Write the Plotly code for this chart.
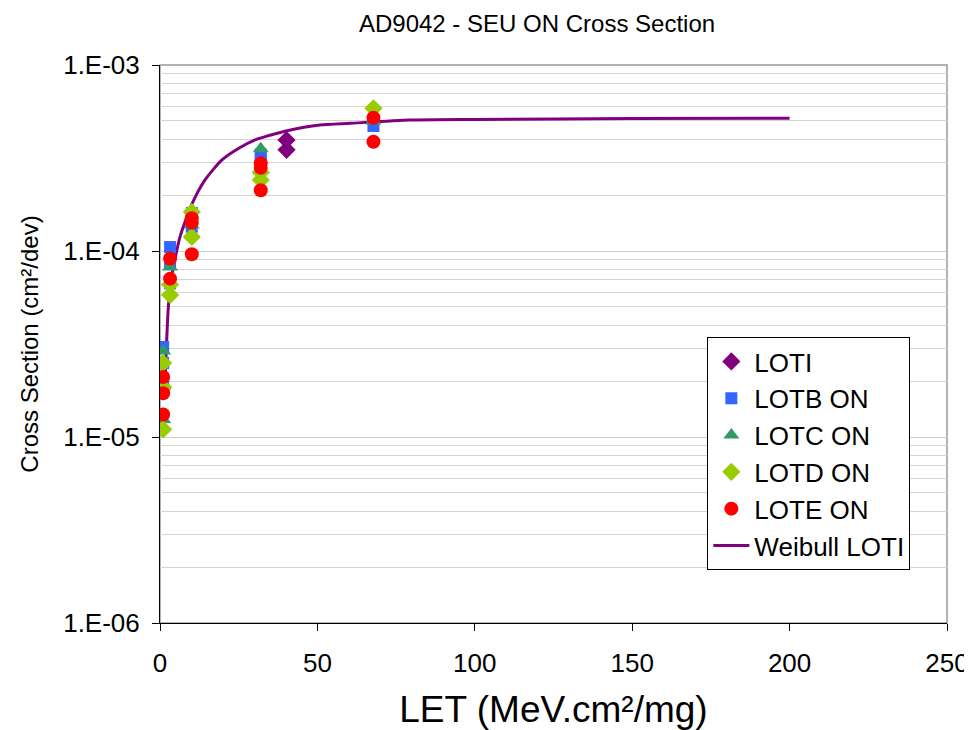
import plotly.graph_objects as go

# ---- data ----
loti_x = [40.2, 40.2]
loti_y = [3.95e-4, 3.5e-4]

lotb_x = [1.0, 1.0, 1.0, 3.2, 3.2, 3.2, 10.1, 10.1, 32.0, 32.0, 67.8]
lotb_y = [3.05e-5, 2.5e-5, 1.88e-5, 1.05e-4, 8.6e-5, 6.7e-5, 1.6e-4, 1.35e-4, 3.3e-4, 3.1e-4, 4.7e-4]

lotc_x = [1.0, 1.0, 1.0, 3.2, 10.1, 32.0, 67.8]
lotc_y = [2.9e-5, 1.87e-5, 1.24e-5, 8.2e-5, 1.38e-4, 3.55e-4, 5.0e-4]

lotd_x = [1.0, 1.0, 1.0, 3.2, 3.2, 10.1, 10.1, 32.0, 32.0, 67.8]
lotd_y = [2.5e-5, 1.85e-5, 1.1e-5, 6.6e-5, 5.8e-5, 1.62e-4, 1.19e-4, 2.65e-4, 2.41e-4, 5.85e-4]

lote_x = [1.0, 1.0, 1.0, 3.2, 3.2, 10.1, 10.1, 10.1, 32.0, 32.0, 32.0, 67.8, 67.8]
lote_y = [2.1e-5, 1.72e-5, 1.32e-5, 9.1e-5, 7.1e-5, 1.5e-4, 1.42e-4, 9.6e-5, 2.96e-4, 2.8e-4, 2.12e-4, 5.2e-4, 3.87e-4]

weib_x = [1.6, 2.65, 3.7, 6.35, 10.1, 14.3, 19.6, 24.9, 30.2, 33.4, 40.0, 50.8, 60.4, 79.4, 100, 150, 200]
weib_y = [2.0e-5, 5.0e-5, 7.3e-5, 1.19e-4, 1.78e-4, 2.41e-4, 3.08e-4, 3.56e-4, 3.96e-4, 4.12e-4,
          4.42e-4, 4.76e-4, 4.86e-4, 5.06e-4, 5.1e-4, 5.15e-4, 5.17e-4]

ytick_vals = [1e-6, 1e-5, 1e-4, 1e-3]
ytick_text = ["1.E-06", "1.E-05", "1.E-04", "1.E-03"]
xtick_vals = [0, 50, 100, 150, 200, 250]

FONT = "Liberation Sans, Arial, sans-serif"

fig = go.Figure()

# Weibull line first so markers are drawn on top of it
fig.add_trace(go.Scatter(x=weib_x, y=weib_y, mode="lines", name="Weibull LOTI", legendrank=6,
                         line=dict(color="#800080", width=3, shape="spline", smoothing=0.6)))

def scat(x, y, name, symbol, color, size, rank):
    fig.add_trace(go.Scatter(x=x, y=y, mode="markers", name=name, legendrank=rank,
                             marker=dict(symbol=symbol, color=color, size=size, line=dict(width=0))))

scat(loti_x, loti_y, "LOTI", "diamond", "#800080", 14, 1)
scat(lotb_x, lotb_y, "LOTB ON", "square", "#3366FF", 12, 2)
scat(lotc_x, lotc_y, "LOTC ON", "triangle-up", "#339966", 14, 3)
scat(lotd_x, lotd_y, "LOTD ON", "diamond", "#99CC00", 14, 4)
scat(lote_x, lote_y, "LOTE ON", "circle", "#FF0000", 14, 5)

# page body has an 8px margin: figure is 964x722 so the plot area lands at 160..947 x 65..623
fig.update_layout(
    width=964, height=722,
    margin=dict(l=152, r=25, t=57, b=107),
    paper_bgcolor="white", plot_bgcolor="white",
    font=dict(family=FONT, color="black", size=24),
    title=dict(text="AD9042 - SEU ON Cross Section", x=0.5488, xanchor="center",
               y=0.978, yanchor="middle", font=dict(size=24)),
    showlegend=True,
    legend=dict(x=0.6955, y=0.5125, xanchor="left", yanchor="top",
                bgcolor="white", bordercolor="black", borderwidth=1,
                font=dict(size=26), traceorder="normal", tracegroupgap=0,
                itemwidth=36),
    shapes=[dict(type="rect", xref="paper", yref="paper", x0=0, y0=0, x1=1, y1=1,
                 line=dict(color="#999999", width=1.5), layer="below")],
)

fig.update_xaxes(range=[0, 250], tickvals=xtick_vals, ticks="outside", ticklen=7,
                 tickcolor="black", showline=True, linecolor="black", linewidth=1,
                 showgrid=False, zeroline=False, tickfont=dict(size=26), automargin=False,
                 ticklabelstandoff=10,
                 title=dict(text="LET (MeV.cm²/mg)", font=dict(size=37), standoff=20))

fig.update_yaxes(type="log", range=[-6, -3], tickvals=ytick_vals, ticktext=ytick_text,
                 ticks="outside", ticklen=7, tickcolor="black", showline=True,
                 linecolor="black", linewidth=1, showgrid=True, gridcolor="#cccccc",
                 gridwidth=1, zeroline=False, tickfont=dict(size=26), automargin=False,
                 ticklabelstandoff=7,
                 minor=dict(dtick="D1", showgrid=True, gridcolor="#d4d4d4", gridwidth=1, ticks=""),
                 title=dict(text="Cross Section (cm²/dev)", font=dict(size=24), standoff=17))

fig.write_html("out.html")
